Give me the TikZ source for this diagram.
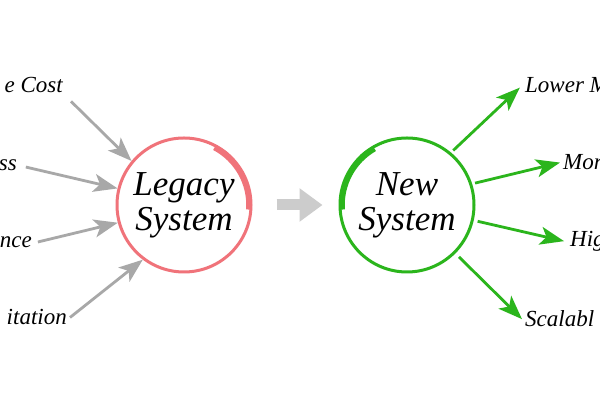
\documentclass[tikz,border=0pt]{standalone}
\usepackage{fontspec}
\setmainfont{Liberation Serif}
\usetikzlibrary{arrows.meta,positioning}

\definecolor{oldred}{RGB}{240,115,122}
\definecolor{newgreen}{RGB}{43,181,28}
\definecolor{arrowgray}{RGB}{168,168,168}
\definecolor{movegray}{RGB}{204,204,204}

\begin{document}
\begin{tikzpicture}[
    x=1pt, y=1pt,
    system/.style={circle, draw, line width=3pt, minimum size=134pt, inner sep=0pt, align=center, font=\fontsize{35}{35}\selectfont\itshape},
    label/.style={inner sep=3pt, font=\fontsize{23}{23}\selectfont\itshape},
    oldarrow/.style={-{Stealth[length=24pt, width=18pt, inset=6pt]}, line width=2.8pt, arrowgray},
    newarrow/.style={-{Stealth[length=24pt, width=18pt, inset=6pt]}, line width=2.8pt, newgreen}
]
\useasboundingbox (0,0) rectangle (600,403);
\fill[white] (0,0) rectangle (600,403);

% Systems
\node[system, draw=oldred] (legacy) at (184,198) {Legacy\\System};
\node[system, draw=newgreen] (newsys) at (407,198) {New\\System};

% Brush strokes
\draw[oldred, line width=5.5pt] ([shift={(62:65)}]legacy.center) arc[start angle=62, end angle=-4, radius=65];
\draw[oldred, line width=2pt] ([shift={(80:67)}]legacy.center) arc[start angle=80, end angle=50, radius=70];
\draw[newgreen, line width=5.5pt] ([shift={(120:65)}]newsys.center) arc[start angle=120, end angle=184, radius=65];
\draw[newgreen, line width=2pt] ([shift={(100:67)}]newsys.center) arc[start angle=100, end angle=132, radius=70];

% Problems
\node[label, anchor=base east] (cost) at (66,310) {e Cost};
\node[label, anchor=base east] (ness) at (20,232) {ss};
\node[label, anchor=base east] (ance) at (35,155) {nce};
\node[label, anchor=base east] (limit) at (70,78) {itation};

% Benefits
\node[label, anchor=base west] (lower) at (522,310) {Lower M};
\node[label, anchor=base west] (more) at (560,233) {Mor};
\node[label, anchor=base west] (higher) at (567,156) {Hig};
\node[label, anchor=base west] (scale) at (522,76) {Scalabl};

% Arrows
\draw[oldarrow, shorten <=7pt] (cost.south east) -- (legacy.140);
\draw[oldarrow, shorten <=6pt] (ness.east) -- (legacy.166);
\draw[oldarrow, shorten <=3pt] (ance.east) -- (legacy.195);
\draw[oldarrow] (limit.east) -- (legacy.233);

\draw[newarrow, shorten <=3pt, shorten >=3pt] (newsys.50) -- (lower.west);
\draw[newarrow, shorten <=3pt] (newsys.18) -- (more.west);
\draw[newarrow, shorten <=4pt, shorten >=3pt] (newsys.-13) -- (higher.west);
\draw[newarrow, shorten <=5pt] (newsys.-45) -- (scale.west);

% Migration
\draw[-{Triangle[length=23pt, width=32pt]}, line width=11pt, movegray, shorten <=24pt, shorten >=16pt] (legacy.east) -- (newsys.west);

\end{tikzpicture}
\end{document}
